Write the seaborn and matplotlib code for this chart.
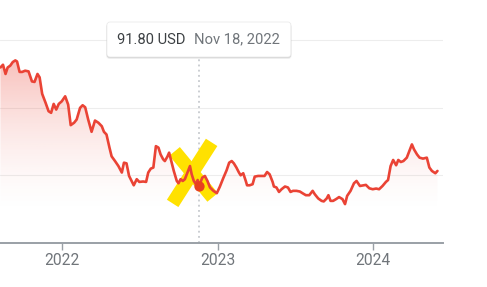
import matplotlib
matplotlib.use("Agg")
import matplotlib.pyplot as plt
import matplotlib.dates as mdates
from matplotlib.patches import FancyBboxPatch
from matplotlib.lines import Line2D
from matplotlib.transforms import IdentityTransform
import seaborn as sns
import numpy as np
import pandas as pd

# ---------------- data ----------------
dates = ["2021-08-09","2021-08-15","2021-08-21","2021-08-26","2021-09-01","2021-09-07","2021-09-13","2021-09-17","2021-09-23","2021-09-29",
         "2021-10-06","2021-10-14","2021-10-22","2021-10-28","2021-11-04","2021-11-09","2021-11-15","2021-11-23","2021-11-30","2021-12-06",
         "2021-12-12","2021-12-18","2021-12-24","2021-12-31","2022-01-08","2022-01-15","2022-01-21","2022-01-29","2022-02-04","2022-02-12",
         "2022-02-18","2022-02-24","2022-03-03","2022-03-11","2022-03-19","2022-03-27","2022-04-04","2022-04-09","2022-04-15","2022-04-22",
         "2022-04-27","2022-05-05","2022-05-13","2022-05-21","2022-05-26","2022-06-01","2022-06-07","2022-06-13","2022-06-18","2022-06-25",
         "2022-07-01","2022-07-10","2022-07-17","2022-07-22","2022-07-28","2022-08-03","2022-08-09","2022-08-15","2022-08-20","2022-08-26",
         "2022-08-30","2022-09-05","2022-09-09","2022-09-15","2022-09-20","2022-09-27","2022-10-01","2022-10-06","2022-10-11","2022-10-16",
         "2022-10-22","2022-10-28","2022-11-01","2022-11-06","2022-11-11","2022-11-15","2022-11-18","2022-11-26","2022-12-02","2022-12-08",
         "2022-12-14","2022-12-22","2022-12-30","2023-01-06","2023-01-14","2023-01-22","2023-01-28","2023-02-03","2023-02-08","2023-02-14",
         "2023-02-20","2023-02-24","2023-03-02","2023-03-08","2023-03-11","2023-03-17","2023-03-24","2023-03-29","2023-04-06","2023-04-14",
         "2023-04-21","2023-04-27","2023-05-03","2023-05-10","2023-05-13","2023-05-19","2023-05-25","2023-05-31","2023-06-08","2023-06-15",
         "2023-06-21","2023-06-27","2023-07-05","2023-07-13","2023-07-19","2023-07-27","2023-08-04","2023-08-12","2023-08-17","2023-08-25",
         "2023-09-02","2023-09-07","2023-09-14","2023-09-18","2023-09-23","2023-09-29","2023-10-06","2023-10-13","2023-10-21","2023-10-27",
         "2023-11-01","2023-11-09","2023-11-17","2023-11-23","2023-12-01","2023-12-09","2023-12-15","2023-12-23","2023-12-31","2024-01-08",
         "2024-01-15","2024-01-23","2024-01-31","2024-02-05","2024-02-11","2024-02-17","2024-02-24","2024-02-29","2024-03-06","2024-03-12",
         "2024-03-20","2024-03-26","2024-04-01","2024-04-06","2024-04-13","2024-04-19","2024-04-27","2024-05-06","2024-05-12","2024-05-18",
         "2024-05-26","2024-05-31"]

prices = [179.6,181.6,174.8,179.6,180.9,183.6,184.8,184.0,176.3,176.3,
          177.2,176.7,169.3,168.9,174.8,172.3,160.1,153.5,147.3,146.1,
          152.7,148.5,152.7,154.6,158.3,152.2,137.0,138.8,141.2,149.8,
          151.7,150.2,141.2,132.1,140.4,138.8,136.2,132.1,130.1,120.4,
          114.0,110.5,106.8,102.0,109.3,108.8,99.5,95.8,92.6,97.1,
          95.1,95.4,95.1,102.0,104.9,105.7,121.5,120.4,115.4,111.8,
          110.5,113.8,116.7,109.3,103.2,95.8,94.1,97.1,95.8,97.1,
          102.0,106.8,100.7,95.8,93.4,96.5,91.8,98.3,99.5,95.8,
          91.0,88.5,86.8,91.5,97.8,103.7,109.3,110.5,108.8,105.7,
          102.0,100.0,101.5,95.8,92.6,92.6,93.4,99.0,99.5,99.5,
          99.5,102.4,100.7,95.1,91.7,91.0,87.7,89.7,91.7,91.0,
          87.7,88.5,88.5,88.0,86.8,85.3,85.3,88.5,86.0,82.9,
          81.1,80.7,82.9,85.3,81.1,81.1,82.4,83.9,82.4,78.7,
          84.8,88.5,94.1,95.8,92.1,92.6,92.9,90.4,89.7,90.2,
          89.7,92.1,95.1,96.5,106.8,111.3,107.4,111.3,109.8,110.5,
          113.0,117.9,122.8,119.1,115.4,113.0,112.3,113.0,105.7,103.2,
          101.5,103.2]

tick_years = ["2022", "2023", "2024"]
grid_values = [50, 100, 150, 200]
selected_date = "2022-11-18"
currency = "USD"

# ---------------- style ----------------
sns.set_theme(style="white")
plt.rcParams["font.family"] = ["Roboto", "DejaVu Sans"]

RED = "#EA4335"
W, H, DPI = 487, 287, 100
fig = plt.figure(figsize=(W / DPI, H / DPI), dpi=DPI)
ax = fig.add_axes([0, 44 / H, 443 / W, 1 - 44 / H])

df = pd.DataFrame({"date": pd.to_datetime(dates), "price": prices})

x0, x1 = pd.Timestamp("2021-08-08"), pd.Timestamp("2024-06-13")
ylo, yhi = 50, 229.4

# gradient fill under the line
poly = ax.fill_between(df["date"], df["price"], ylo, facecolor="none", edgecolor="none")
grad = np.linspace(0, 1, 256).reshape(-1, 1)
alpha = 0.33 * grad ** 1.6
rgba = np.zeros((256, 1, 4))
rgba[..., 0] = 234 / 255
rgba[..., 1] = 67 / 255
rgba[..., 2] = 53 / 255
rgba[..., 3] = alpha
im = ax.imshow(rgba, aspect="auto", origin="lower",
               extent=[mdates.date2num(x0), mdates.date2num(x1), 70, 185],
               zorder=1)
im.set_clip_path(poly.get_paths()[0], transform=ax.transData)

sns.lineplot(data=df, x="date", y="price", ax=ax, color=RED, linewidth=1.9, zorder=5)

ax.set_xlim(x0, x1)
ax.set_ylim(ylo, yhi)

# grid
ax.set_yticks(grid_values)
ax.set_yticklabels([])
ax.yaxis.grid(True, color="#ededed", linewidth=0.8)
ax.xaxis.grid(False)
ax.set_axisbelow(True)
ax.tick_params(axis="y", length=0)

ax.set_xticks([pd.Timestamp(f"{y}-01-01") for y in tick_years])
ax.set_xticklabels(tick_years)
ax.tick_params(axis="x", direction="out", length=5, width=1.0, color="#9aa0a6",
               labelsize=11.2, labelcolor="#70757a", pad=2.5, bottom=True)
ax.set_xlabel("")
ax.set_ylabel("")
for s in ["top", "right", "left"]:
    ax.spines[s].set_visible(False)
ax.spines["bottom"].set_color("#9aa0a6")
ax.spines["bottom"].set_linewidth(1.4)
ax.set_facecolor("white")
fig.patch.set_facecolor("white")

# selected point
sel = df[df["date"] == pd.Timestamp(selected_date)].iloc[0]
fig.canvas.draw()
px, py = ax.transData.transform((mdates.date2num(sel["date"]), sel["price"]))

# yellow X highlight (pixel offsets from selected point), below the price line
for (dx0, dy0, dx1, dy1) in [(-24.3, 35, 13.7, -11), (12.7, 44, -26.3, -17)]:
    ln = Line2D([px + dx0, px + dx1], [py + dy0, py + dy1],
                color="#FFE100", linewidth=9.8, solid_capstyle="butt", zorder=3)
    ax.add_line(ln)
    ln.set_transform(IdentityTransform())

ax.plot([sel["date"]], [sel["price"]], "o", color="#E8411F", markersize=7.4, zorder=6,
        markeredgewidth=0)

# dotted vertical line
box_bottom = H - 57
ymax_frac = (box_bottom - 44) / (H - 44)
ax.axvline(sel["date"], ymin=0, ymax=ymax_frac, color="#bdc1c6", linewidth=1.1,
           linestyle=(0, (1.2, 2.2)), zorder=2)

# tooltip
bw, bh = 184, 35
bx = px - bw / 2
by = H - 57
for off, a in [(2.0, 0.05), (1.2, 0.07), (0.5, 0.09)]:
    fig.add_artist(FancyBboxPatch((bx - off * 0.3, by - off), bw + off * 0.6, bh,
                                  boxstyle="round,pad=0,rounding_size=3", transform=None,
                                  facecolor="black", edgecolor="none", alpha=a, zorder=9))
fig.add_artist(FancyBboxPatch((bx, by), bw, bh, boxstyle="round,pad=0,rounding_size=3",
                              transform=None, facecolor="white", edgecolor="#e8e8e8",
                              linewidth=0.5, zorder=10))
ty = by + bh / 2
fig.text((bx + 10) / W, ty / H, f"{sel['price']:.2f} {currency}", ha="left", va="center",
         fontsize=10.6, color="#3c4043", zorder=11)
date_label = sel["date"].strftime("%b ") + str(sel["date"].day) + sel["date"].strftime(", %Y")
fig.text((bx + 87) / W, ty / H, date_label, ha="left", va="center",
         fontsize=10.6, color="#70757a", zorder=11)

fig.savefig("out.png", dpi=DPI, facecolor="white")
